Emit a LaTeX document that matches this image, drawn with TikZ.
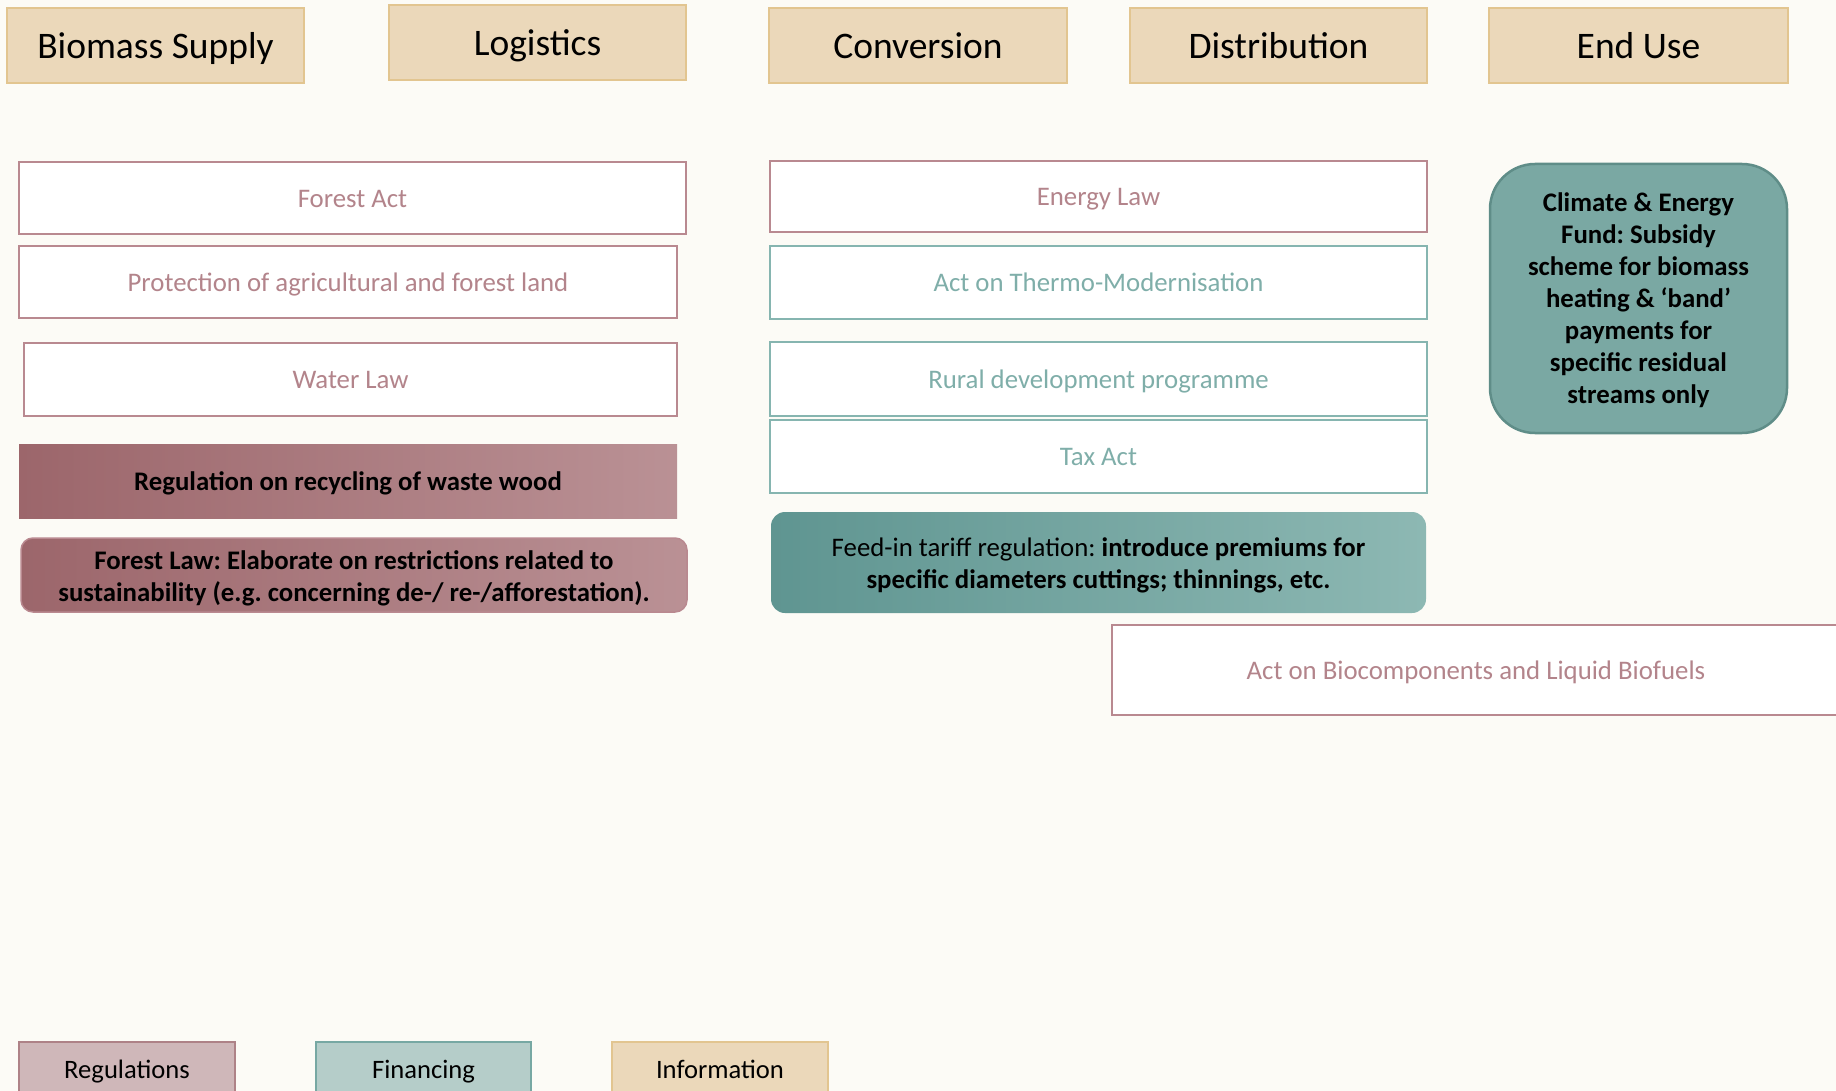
\documentclass[tikz,border=0pt]{standalone}
\usepackage{fontspec}
\setmainfont{Carlito}
\frenchspacing
\definecolor{bg}{HTML}{FCFBF6}
\definecolor{hdrfill}{HTML}{EBD8BA}
\definecolor{hdrline}{HTML}{E2C590}
\definecolor{regline}{HTML}{B98990}
\definecolor{regtext}{HTML}{B3848B}
\definecolor{finline}{HTML}{86B5B0}
\definecolor{fintext}{HTML}{7FAEA9}
\definecolor{regdark}{HTML}{9C666B}
\definecolor{reglight}{HTML}{BA9195}
\definecolor{findark}{HTML}{5F9591}
\definecolor{finlight}{HTML}{8DB8B3}
\definecolor{fundfill}{HTML}{7AA8A3}
\definecolor{fundline}{HTML}{5F8D88}
\definecolor{legreg}{HTML}{CFB7B9}
\definecolor{legregline}{HTML}{AE8287}
\definecolor{legfin}{HTML}{B5CDC9}
\definecolor{legfinline}{HTML}{77A8A3}
\tikzset{
  base/.style={inner sep=0pt, outer sep=0pt, align=center},
  % single-line boxes: the capital letters sit centred in the box
  oneline/.style={text height=#1, text depth=0pt},
  hdr/.style={base, oneline=25.5pt, draw=hdrline, fill=hdrfill, line width=2pt,
    font=\fontsize{37.5}{45}\selectfont},
  regbox/.style={base, oneline=18.5pt, draw=regline, fill=white, line width=2pt, text=regtext,
    font=\fontsize{26.8}{32}\selectfont},
  finbox/.style={base, oneline=18.5pt, draw=finline, fill=white, line width=2pt, text=fintext,
    font=\fontsize{26.8}{32}\selectfont},
  boldtext/.style={font=\fontsize{26.8}{32}\selectfont\bfseries},
  plaintext/.style={font=\fontsize{26.8}{32}\selectfont},
  legend/.style={base, oneline=18.5pt, line width=2pt, font=\fontsize{26.6}{32}\selectfont},
}
\begin{document}
\begin{tikzpicture}[x=1pt,y=-1pt]
\useasboundingbox (0,0) rectangle (1836,1091);
\fill[bg] (0,0) rectangle (1836,1091);
\clip (0,0) rectangle (1836,1091);

% value-chain headers
\node[hdr, minimum width=297, minimum height=75] (bs) at (155.5,45.5) {Biomass Supply};
\node[hdr, minimum width=297, minimum height=75] (lg) at (537.5,42.5) {Logistics};
\node[hdr, minimum width=298, minimum height=75] (cv) at (918,45.5) {Conversion};
\node[hdr, minimum width=297, minimum height=75] (ds) at (1278.5,45.5) {Distribution};
\node[hdr, minimum width=299, minimum height=75] (eu) at (1638.5,45.5) {End Use};

% supply and logistics column
\node[regbox, minimum width=667, minimum height=72] (fa) at (352.5,198) {Forest Act};
\node[regbox, minimum width=658, minimum height=72] (pa) at (348,282) {Protection of agricultural and forest land};
\node[regbox, minimum width=653, minimum height=73] (wl) at (350.5,379.5) {Water Law};
\node[base, oneline=18.5pt, boldtext, left color=regdark, right color=reglight,
  minimum width=658, minimum height=74] (rr) at (348,481) {Regulation on recycling of waste wood};
\node[base, left color=regdark, right color=reglight, draw=regline,
  line width=1.5pt, rounded corners=12, minimum width=666, minimum height=74,
  label={[boldtext, align=center, yshift=-3.5pt]center:{Forest Law: Elaborate on restrictions related to\\sustainability (e.g. concerning de-/ re-/afforestation).}}]
  (fl) at (354,575) {};

% conversion and distribution column
\node[regbox, minimum width=657, minimum height=71] (el) at (1098.5,196.5) {Energy Law};
\node[finbox, minimum width=657, minimum height=73] (tm) at (1098.5,282.5) {Act on Thermo-Modernisation};
\node[finbox, minimum width=657, minimum height=74] (rd) at (1098.5,379) {Rural development programme};
\node[finbox, minimum width=657, minimum height=73] (ta) at (1098.5,456.5) {Tax Act};
\node[base, left color=findark, right color=finlight,
  rounded corners=14, minimum width=655, minimum height=101,
  label={[plaintext, align=center, yshift=-3pt]center:{Feed-in tariff regulation: \textbf{introduce premiums for}\\\textbf{specific diameters cuttings; thinnings, etc.}}}]
  (fi) at (1098.5,562.5) {};

% end use
\node[base, fill=fundfill, draw=fundline, line width=2.5pt, rounded corners=45,
  minimum width=297, minimum height=269,
  label={[boldtext, align=center, yshift=-1.5pt]center:{Climate \& Energy\\Fund: Subsidy\\scheme for biomass\\heating \& ‘band’\\payments for\\specific residual\\streams only}}]
  (ce) at (1638.5,298.5) {};

\node[regbox, minimum width=728, minimum height=90] (ab) at (1476,670) {Act on Biocomponents and Liquid Biofuels};

% legend
\node[legend, fill=legreg, draw=legregline, minimum width=216, minimum height=54] (lr) at (127,1069) {Regulations};
\node[legend, fill=legfin, draw=legfinline, minimum width=215, minimum height=54] (lf) at (423.5,1069) {Financing};
\node[legend, fill=hdrfill, draw=hdrline, minimum width=216, minimum height=54] (li) at (720,1069) {Information};
\end{tikzpicture}
\end{document}
